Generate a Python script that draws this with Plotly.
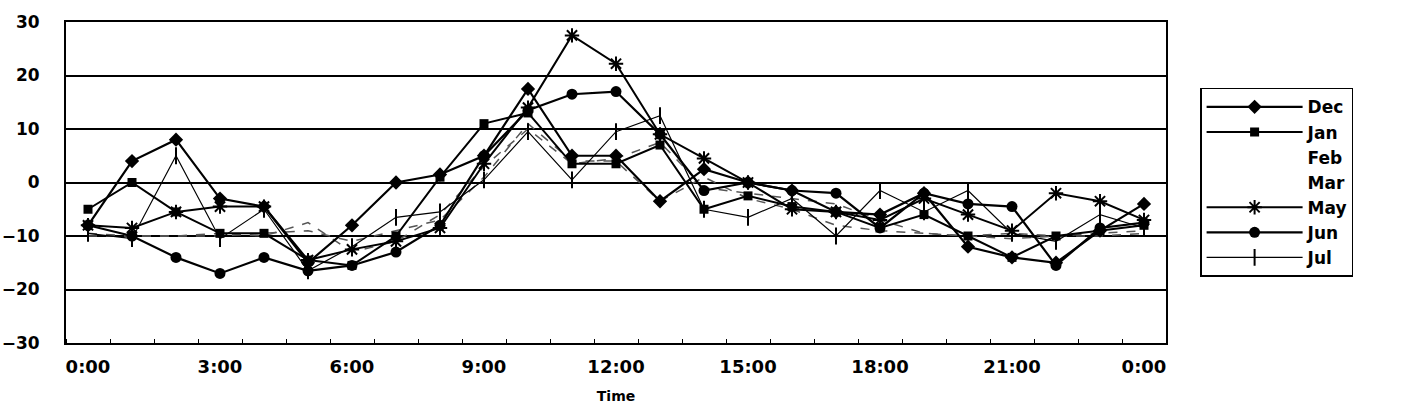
import plotly.graph_objects as go

hours = list(range(25))
tick_hours = [0, 3, 6, 9, 12, 15, 18, 21, 24]
tick_labels = ["0:00", "3:00", "6:00", "9:00", "12:00", "15:00", "18:00", "21:00", "0:00"]

dec = [-8, 4, 8, -3, -4.5, -15, -8, 0, 1.5, 5, 17.5, 5, 5, -3.5, 2.5, 0, -1.5, -5.5, -6, -2, -12, -14, -15, -9, -4]
jan = [-5, 0, -5.5, -9.5, -9.5, -14.5, -15.5, -10, 1, 11, 13, 3.5, 3.5, 7, -5, -2.5, -4.5, -5.5, -8.5, -6, -10, -14, -10, -9, -8]
feb = [-10, -10, -10, -9.5, -10, -7.5, -13, -11, -6, 3, 10, 3.5, 4.5, 7.5, -1, -2, -3, -4, -7, -9.5, -10, -9.5, -10, -9.5, -9]
mar = [-9.5, -10, -10, -10, -9.5, -9, -11, -9, -7, 1, 11, 4, 4, -3.5, 1, -3, -5, -8, -9, -9.5, -10, -10.5, -10, -10, -9.5]
may = [-8, -8.5, -5.5, -4.5, -4.5, -14.5, -12.5, -11, -8.5, 3.5, 14, 27.5, 22.2, 9, 4.5, 0, -5, -5.5, -7, -3, -6, -9, -2, -3.5, -7]
jun = [-8, -10, -14, -17, -14, -16.5, -15.5, -13, -8, 5, 13.5, 16.5, 17, 9, -1.5, 0, -1.5, -2, -8.5, -2, -4, -4.5, -15.5, -8.5, -7.5]
jul = [-9.5, -10.5, 5, -10.5, -5, -16.5, -12, -6.5, -5.5, 0.5, 9.5, 0.5, 9.5, 12.5, -5, -6.5, -3, -10, -1.5, -5.5, -1.5, -9.5, -11, -6, -8.5]

FONT = "DejaVu Sans"
fig = go.Figure()

# dashed series (not shown in legend with a line)
for name, vals in [("Feb", feb), ("Mar", mar)]:
    fig.add_trace(go.Scatter(x=hours, y=vals, mode="lines", name=name, showlegend=False,
                             line=dict(color="#555555", width=1.5, dash="dash")))

series = [
    ("Dec", dec, "diamond", 11, 2.2),
    ("Jan", jan, "square", 9, 2.0),
    ("Feb", None, None, 0, 0),
    ("Mar", None, None, 0, 0),
    ("May", may, "asterisk-open", 12, 2.0),
    ("Jun", jun, "circle", 11, 2.2),
    ("Jul", jul, "line-ns-open", 12, 1.2),
]
for i, (name, vals, sym, size, w) in enumerate(series):
    if vals is None:
        fig.add_trace(go.Scatter(x=[None], y=[None], mode="lines", name=name,
                                 legendgroup=name, line=dict(color="rgba(0,0,0,0)")))
        continue
    fig.add_trace(go.Scatter(
        x=hours, y=vals, mode="lines+markers", name=name, legendgroup=name,
        line=dict(color="black", width=w),
        marker=dict(symbol=sym, size=size, color="black",
                    line=dict(color="black", width=2 if "open" in sym else 0)),
    ))

fig.update_layout(
    width=1403, height=420,
    margin=dict(l=66, r=237, t=22, b=77),
    plot_bgcolor="white", paper_bgcolor="white",
    font=dict(family=FONT, color="black", size=16, weight="bold"),
    legend=dict(x=1.031, y=0.795, xanchor="left", yanchor="top",
                bordercolor="black", borderwidth=1.5, tracegroupgap=4,
                itemwidth=96, font=dict(size=17, family=FONT, weight="bold"),
                traceorder="normal"),
)
fig.update_xaxes(
    range=[-0.5, 24.5], tickmode="array", tickvals=tick_hours, ticktext=tick_labels,
    showgrid=False, zeroline=False, showline=True, linecolor="black", linewidth=2,
    mirror=True, ticks="", ticklabelstandoff=6, automargin=False,
    tickfont=dict(size=18, family=FONT, weight="bold"),
    minor=dict(tick0=0.5, dtick=1, ticks="inside", ticklen=4, tickcolor="black", showgrid=False),
    title=dict(text="Time", font=dict(size=14, family=FONT, weight="bold"), standoff=16),
)
fig.update_yaxes(
    range=[-30, 30], tickmode="linear", tick0=-30, dtick=10,
    showgrid=True, gridcolor="black", gridwidth=1.5, zeroline=False,
    showline=True, linecolor="black", linewidth=2, mirror=True,
    ticks="", ticklabelstandoff=21, automargin=False,
    tickfont=dict(size=17, family=FONT, weight="bold"),
)

fig.write_html("out.html")
